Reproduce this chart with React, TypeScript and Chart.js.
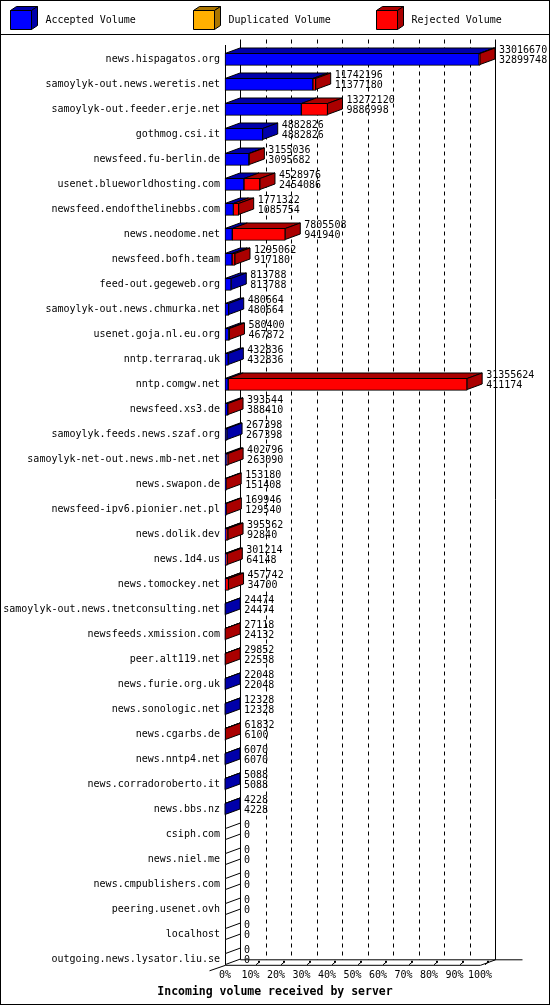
import React, { useRef, useEffect } from "react";
import Chart from "chart.js/auto";

const servers = [
  "news.hispagatos.org",
  "samoylyk-out.news.weretis.net",
  "samoylyk-out.feeder.erje.net",
  "gothmog.csi.it",
  "newsfeed.fu-berlin.de",
  "usenet.blueworldhosting.com",
  "newsfeed.endofthelinebbs.com",
  "news.neodome.net",
  "newsfeed.bofh.team",
  "feed-out.gegeweb.org",
  "samoylyk-out.news.chmurka.net",
  "usenet.goja.nl.eu.org",
  "nntp.terraraq.uk",
  "nntp.comgw.net",
  "newsfeed.xs3.de",
  "samoylyk.feeds.news.szaf.org",
  "samoylyk-net-out.news.mb-net.net",
  "news.swapon.de",
  "newsfeed-ipv6.pionier.net.pl",
  "news.dolik.dev",
  "news.1d4.us",
  "news.tomockey.net",
  "samoylyk-out.news.tnetconsulting.net",
  "newsfeeds.xmission.com",
  "peer.alt119.net",
  "news.furie.org.uk",
  "news.sonologic.net",
  "news.cgarbs.de",
  "news.nntp4.net",
  "news.corradoroberto.it",
  "news.bbs.nz",
  "csiph.com",
  "news.niel.me",
  "news.cmpublishers.com",
  "peering.usenet.ovh",
  "localhost",
  "outgoing.news.lysator.liu.se",
];

// first number next to each bar
const totalVolume = [
  33016670, 11742196, 13272120, 4882826, 3155036, 4528976, 1771322, 7805508,
  1295062, 813788, 480664, 580400, 432836, 31355624, 393544, 267398, 402796,
  153180, 169946, 395362, 301214, 457742, 24474, 27118, 29852, 22048, 12328,
  61832, 6070, 5088, 4228, 0, 0, 0, 0, 0, 0,
];

// second number next to each bar
const acceptedVolume = [
  32899748, 11377180, 9886998, 4882826, 3095682, 2454086, 1085754, 941940,
  917180, 813788, 480664, 467872, 432836, 411174, 388410, 267398, 263090,
  151408, 129540, 92840, 64148, 34700, 24474, 24132, 22558, 22048, 12328,
  6100, 6070, 5088, 4228, 0, 0, 0, 0, 0, 0,
];

const duplicatedVolume = [
  0, 0, 0, 0, 0, 0, 0, 0, 0, 0, 0, 0, 0, 0, 0, 0, 0, 0, 0, 0, 0, 0, 0, 0, 0,
  0, 0, 0, 0, 0, 0, 0, 0, 0, 0, 0, 0,
];

const tickLabels = ["0%", "10%", "20%", "30%", "40%", "50%", "60%", "70%", "80%", "90%", "100%"];

const FONT = "DejaVu Sans Mono";
const DX = 15;
const DY = 5.5;
const HALF = 6;

const colors = ["#0000FF", "#FFB000", "#FF0000"];
const darkColors = ["#0000AA", "#AA7500", "#AA0000"];

const maxTotal = Math.max(...totalVolume);
const pct = (v: number) => (v / maxTotal) * 100;

const poly = (ctx: CanvasRenderingContext2D, pts: number[][], fill: string) => {
  ctx.beginPath();
  ctx.moveTo(pts[0][0], pts[0][1]);
  for (let k = 1; k < pts.length; k++) ctx.lineTo(pts[k][0], pts[k][1]);
  ctx.closePath();
  ctx.fillStyle = fill;
  ctx.fill();
  ctx.strokeStyle = "#000";
  ctx.lineWidth = 1;
  ctx.stroke();
};

const line = (ctx: CanvasRenderingContext2D, x1: number, y1: number, x2: number, y2: number) => {
  ctx.beginPath();
  ctx.moveTo(x1, y1);
  ctx.lineTo(x2, y2);
  ctx.stroke();
};

const bars3d = {
  id: "bars3d",
  beforeDraw(chart: any) {
    const { ctx, width, height } = chart;
    ctx.save();
    ctx.fillStyle = "#fff";
    ctx.fillRect(0, 0, width, height);
    ctx.restore();
  },
  beforeDatasetsDraw(chart: any) {
    const { ctx } = chart;
    const xs = chart.scales.x;
    const ys = chart.scales.y;
    const x0 = Math.round(xs.getPixelForValue(0)) + 0.5;
    const x100 = Math.round(xs.getPixelForValue(100)) + 0.5;
    const fb = ys.getPixelForValue(servers.length - 1) + HALF;
    const ft = ys.getPixelForValue(0) - 14.3;
    ctx.save();
    ctx.strokeStyle = "#000";
    ctx.lineWidth = 1;
    // walls
    line(ctx, x0, ft, x0, fb);
    line(ctx, x0 + DX, ft - DY, x0 + DX, fb - DY);
    line(ctx, x100 + DX, ft - DY, x100 + DX, fb - DY);
    // floor
    line(ctx, x0 + DX, fb - DY, x100 + DX + 27, fb - DY);
    line(ctx, x0, fb, x100, fb);
    line(ctx, x100, fb, x100 + DX, fb - DY);
    line(ctx, x0 - 16, fb + 5.5, x0, fb);
    // dashed grid on the back wall
    ctx.setLineDash([4, 4]);
    for (let v = 10; v < 100; v += 10) {
      const bx = Math.round(xs.getPixelForValue(v)) + 0.5 + DX;
      line(ctx, bx, ft - DY, bx, fb - DY);
    }
    ctx.setLineDash([]);
    // floor ticks
    ctx.fillStyle = "#000";
    for (let v = 10; v <= 100; v += 10) {
      const fx = Math.round(xs.getPixelForValue(v));
      line(ctx, fx + 5, fb - 0.5, fx + 8, fb - 3);
      ctx.fillRect(fx + 7, fb - 4.5, 2, 2);
    }
    ctx.restore();
  },
  afterDatasetsDraw(chart: any) {
    const { ctx } = chart;
    const xs = chart.scales.x;
    const ys = chart.scales.y;
    const x0 = Math.round(xs.getPixelForValue(0)) + 0.5;
    ctx.save();
    servers.forEach((_, i) => {
      const cy = ys.getPixelForValue(i);
      const top = Math.round(cy - HALF) + 0.5;
      const bottom = Math.round(cy + HALF) - 0.5;
      let end = x0;
      let sideColor = "#FFFFFF";
      chart.data.datasets.forEach((ds: any, d: number) => {
        if (!(ds.data[i] > 0)) return;
        const el = chart.getDatasetMeta(d).data[i];
        const a = Math.min(el.base, el.x);
        const b = Math.max(el.base, el.x);
        poly(ctx, [[a, top], [a + DX, top - DY], [b + DX, top - DY], [b, top]], darkColors[d]);
        end = b;
        sideColor = darkColors[d];
      });
      poly(ctx, [[end, top], [end + DX, top - DY], [end + DX, bottom - DY], [end, bottom]], sideColor);

      const tx = xs.getPixelForValue(pct(totalVolume[i])) + DX + 4;
      ctx.font = `10px "${FONT}"`;
      ctx.fillStyle = "#000";
      ctx.textBaseline = "middle";
      ctx.textAlign = "left";
      ctx.fillText(String(totalVolume[i]), tx, cy - 9.3);
      ctx.fillText(String(acceptedVolume[i]), tx, cy + 1.4);
    });
    ctx.restore();
  },
  afterDraw(chart: any) {
    const { ctx } = chart;
    ctx.save();
    ctx.strokeStyle = "#000";
    ctx.lineWidth = 1;
    ctx.strokeRect(0.5, 0.5, 549, 1004);
    line(ctx, 0, 34.5, 550, 34.5);
    chart.data.datasets.forEach((ds: any, d: number) => {
      const x = 10.5 + d * 183;
      const y = 10.5;
      const w = 21;
      const h = 19;
      poly(ctx, [[x, y], [x + 6, y - 4], [x + w + 6, y - 4], [x + w, y]], darkColors[d]);
      poly(ctx, [[x + w, y], [x + w + 6, y - 4], [x + w + 6, y + h - 4], [x + w, y + h]], darkColors[d]);
      poly(ctx, [[x, y], [x + w, y], [x + w, y + h], [x, y + h]], colors[d]);
      ctx.font = `10px "${FONT}"`;
      ctx.fillStyle = "#000";
      ctx.textBaseline = "middle";
      ctx.textAlign = "left";
      ctx.fillText(ds.label, x + 35, 20.5);
    });
    ctx.restore();
  },
};

const App = () => {
  const chartRef = useRef<HTMLCanvasElement>(null);

  useEffect(() => {
    const ctx = chartRef.current?.getContext("2d");
    if (!ctx) return;

    const rejectedVolume = totalVolume.map((t, i) => t - acceptedVolume[i] - duplicatedVolume[i]);
    const series = [acceptedVolume, duplicatedVolume, rejectedVolume];
    const labels = ["Accepted Volume", "Duplicated Volume", "Rejected Volume"];

    const myChart = new Chart(ctx, {
      type: "bar",
      data: {
        labels: servers,
        datasets: series.map((s, d) => ({
          label: labels[d],
          data: s.map(pct),
          backgroundColor: colors[d],
          borderColor: "#000",
          borderWidth: 1,
          borderSkipped: false,
          barThickness: 12,
          clip: false,
        })) as any,
      },
      options: {
        indexAxis: "y",
        animation: false,
        responsive: true,
        maintainAspectRatio: false,
        events: [],
        layout: { padding: { top: 59.3, right: 0, left: 0, bottom: 0 } },
        plugins: {
          legend: { display: false },
          tooltip: { enabled: false },
          title: {
            display: true,
            text: "Incoming volume received by server",
            position: "bottom",
            color: "#000",
            font: { family: FONT, size: 11.5, weight: "bold" },
            padding: { top: 2, bottom: 6 },
          },
        },
        scales: {
          x: {
            stacked: true,
            min: 0,
            max: 100,
            afterFit: (s: any) => {
              s.height = 23.9;
            },
            grid: { display: false, drawTicks: false },
            border: { display: false },
            ticks: {
              stepSize: 10,
              padding: 10,
              color: "#000",
              maxRotation: 0,
              autoSkip: false,
              font: { family: FONT, size: 10 },
              callback: (_v: any, i: number) => tickLabels[i],
            },
          },
          y: {
            stacked: true,
            offset: false,
            afterFit: (s: any) => {
              s.width = 225;
            },
            grid: { display: false, drawTicks: false },
            border: { display: false },
            ticks: {
              padding: 5,
              color: "#000",
              autoSkip: false,
              font: { family: FONT, size: 10 },
            },
          },
          // empty right-hand strip that holds the value labels
          yRight: {
            axis: "y",
            type: "linear",
            position: "right",
            afterFit: (s: any) => {
              s.width = 70;
            },
            grid: { display: false, drawTicks: false },
            border: { display: false },
            ticks: { display: false },
          },
        },
      },
      plugins: [bars3d],
    });

    return () => {
      myChart.destroy();
    };
  }, []);

  return (
    <div style={{ position: "absolute", left: 0, top: 0, width: 550, height: 1005 }}>
      <canvas ref={chartRef}></canvas>
    </div>
  );
};

export default App;
